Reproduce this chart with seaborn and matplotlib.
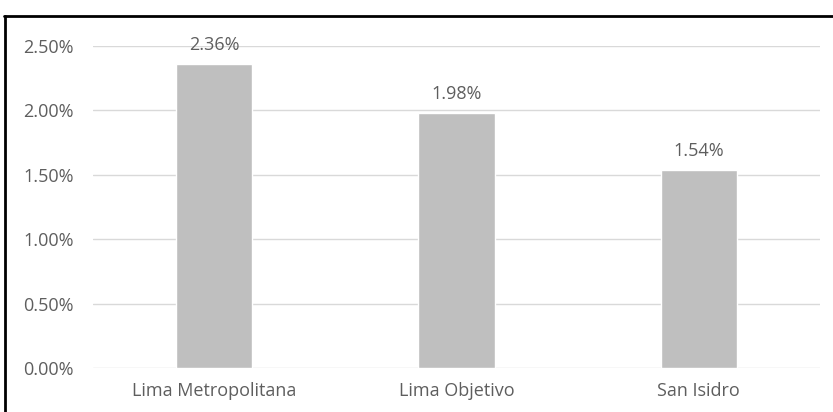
import matplotlib
matplotlib.use("Agg")
import matplotlib.pyplot as plt
from matplotlib.lines import Line2D
import seaborn as sns
import pandas as pd

categories = ["Lima Metropolitana", "Lima Objetivo", "San Isidro"]
values = [2.36, 1.98, 1.54]
y_ticks = [0.0, 0.5, 1.0, 1.5, 2.0, 2.5]

sns.set_theme(style="white")
plt.rcParams["font.family"] = ["Open Sans", "DejaVu Sans"]

text_color = "#5E5E5E"
bar_color = "#BFBFBF"
grid_color = "#D9D9D9"
fs = 13

df = pd.DataFrame({"zona": categories, "valor": values})

fig = plt.figure(figsize=(8.33, 4.12), dpi=100)
ax = fig.add_axes([0.1116, 0.1068, 0.8728, 0.7815])

sns.barplot(data=df, x="zona", y="valor", color=bar_color, width=0.314,
            saturation=1, ax=ax, zorder=3)

ax.set_ylim(0, 2.5)
ax.set_yticks(y_ticks)
ax.set_yticklabels([f"{t:.2f}%" for t in y_ticks])
ax.set_xlim(-0.5, 2.5)
ax.set_xlabel("")
ax.set_ylabel("")
for t in y_ticks:
    ax.axhline(t, color=grid_color, linewidth=1.0, zorder=1)
for s in ax.spines.values():
    s.set_visible(False)
ax.tick_params(axis="y", length=0, pad=14, labelsize=fs, labelcolor=text_color)
ax.tick_params(axis="x", length=0, pad=10, labelsize=fs, labelcolor=text_color)

for i, v in enumerate(values):
    ax.annotate(f"{v:.2f}%", xy=(i, v), xytext=(0, 7), textcoords="offset points",
                ha="center", va="bottom", fontsize=fs, color=text_color)

# frame lines on top and left side of the figure
fig.add_artist(Line2D([4 / 833, 1.0], [1 - 15.5 / 412, 1 - 15.5 / 412],
                      transform=fig.transFigure, color="black", linewidth=2.0))
fig.add_artist(Line2D([4.5 / 833, 4.5 / 833], [0, 1 - 15.5 / 412],
                      transform=fig.transFigure, color="black", linewidth=2.0))

fig.savefig("out.png", dpi=100, facecolor="white")
